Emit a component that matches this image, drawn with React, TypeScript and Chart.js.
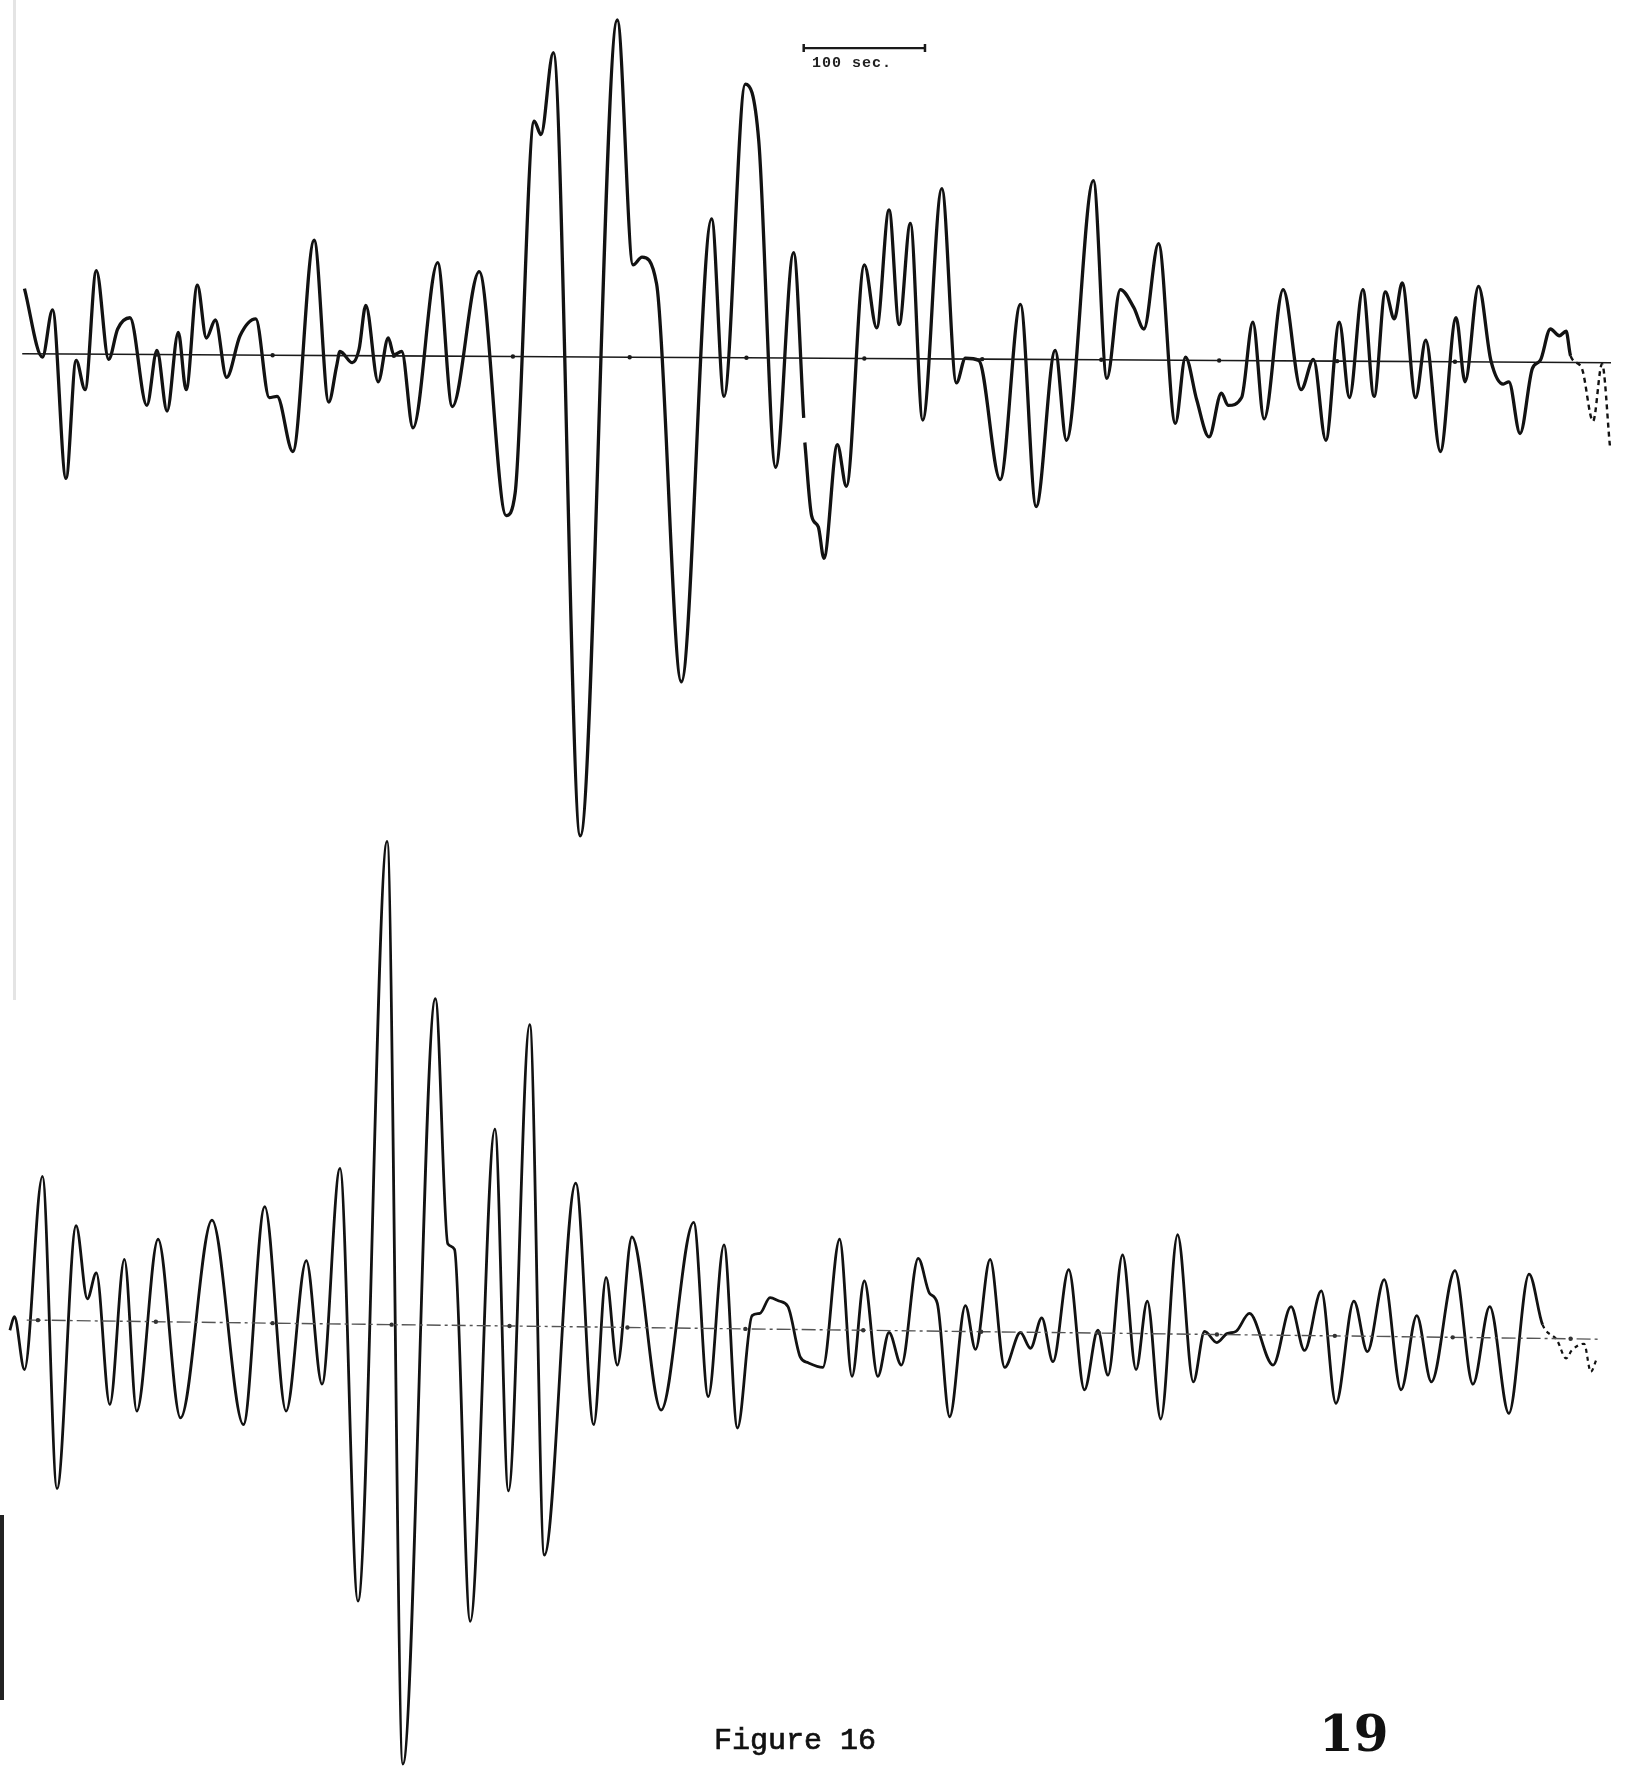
import React, { useEffect, useRef } from "react";
import { Chart, registerables } from "chart.js";

Chart.register(...registerables);

// Time axis in chart units (100 sec = 108 units), amplitude relative to each trace's zero line.

// Upper trace
const upperTime = [
  16, 32, 41, 53, 62, 70, 80, 91, 99, 110, 125, 134, 143, 153, 160, 170, 178, 186, 196, 208,
  222, 234, 241, 255, 274, 287, 294, 297, 308, 314, 320, 331, 340, 345, 352, 362, 384, 397, 421, 445,
  453, 470, 476, 487, 511, 544, 558, 566, 579, 601, 628, 639, 658, 670, 685, 701, 710, 710.5, 711, 717,
  723, 728, 740, 748, 764, 775, 786, 795, 805, 816, 833, 846, 854, 866, 885, 903, 917, 934, 944, 968,
  980, 992, 1004, 1013, 1026, 1041, 1050, 1060, 1071, 1082, 1088, 1100, 1110, 1120, 1137, 1153, 1164, 1175, 1187, 1196,
  1208, 1218, 1228, 1236, 1243, 1255, 1264, 1277, 1291, 1299, 1311, 1322, 1333, 1338, 1348, 1359, 1366, 1375, 1383, 1389,
  1393, 1403, 1413, 1421, 1428,
];
const upperAmp = [
  61, 0, 42, -108, -3, -29, 77, -2, 25, 35, -43, 6, -48, 22, -29, 64, 17, 33, -18, 19,
  34, -36, -35, -84, 104, -40, -8, 5, -5, 7, 46, -22, 17, 2, 5, -63, 84, -44, 76, -141,
  -121, 210, 198, 271, -426, 300, 82, 89, 65, -289, 123, -35, 243, 192, -98, 93, -54, null, -76, -141,
  -151, -179, -78, -115, 82, 26, 131, 29, 119, -56, 150, -23, -1, -3, -109, 47, -133, 6, -74, 157,
  -19, 60, 44, 25, 101, -59, 0, -38, -71, -32, -43, -36, 31, -55, 60, -29, -2, -74, 31, -36,
  60, -35, 58, 34, 66, -36, 15, -84, 35, -22, 63, -3, -24, -22, -68, -10, -3, 25, 19, 23,
  1, -10, -57, -6, -79,
];
const upperMarkTime = [14, 134, 237, 345, 451, 555, 659, 764, 869, 975, 1080, 1185, 1290, 1429];
const upperMarkLevel = [3, 2.3, 1.7, 1.1, 0.5, -0.1, -0.6, -1.2, -1.8, -2.4, -3.0, -3.6, -4.2, -5];

// Lower trace
const lowerTime = [
  3, 7, 16, 32, 45, 62, 72, 80, 92, 105, 116, 135, 155, 183, 211, 230, 249, 267, 281, 297,
  313, 339, 353, 382, 393, 399, 413, 435, 447, 466, 479, 507, 523, 534, 544, 557, 583, 612, 625, 639,
  651, 664, 671, 680, 688, 696, 707, 714, 727, 742, 753, 764, 776, 786, 797, 812, 822, 829, 840, 854,
  863, 876, 889, 903, 912, 922, 932, 946, 960, 972, 981, 994, 1006, 1016, 1028, 1043, 1057, 1067, 1078, 1087,
  1095, 1107, 1128, 1144, 1156, 1171, 1184, 1200, 1212, 1227, 1242, 1256, 1269, 1290, 1306, 1321, 1338, 1356, 1368, 1381,
  1389, 1394, 1405, 1411, 1416,
];
const lowerAmp = [
  -8, 4, -43, 129, -149, 85, 20, 43, -74, 55, -80, 73, -86, 90, -92, 102, -80, 54, -56, 136,
  -249, 427, -394, 287, 69, 64, -267, 171, -151, 264, -208, 123, -92, 39, -39, 75, -79, 88, -67, 68,
  -95, 5, 7, 21, 18, 13, -32, -37, -41, 73, -49, 36, -49, -10, -39, 56, 25, 16, -85, 14,
  -25, 55, -41, -10, -24, 3, -36, 46, -61, -8, -48, 59, -43, 18, -87, 77, -54, -9, -19, -11,
  -9, 7, -39, 13, -26, 27, -73, 18, -27, 37, -61, 5, -54, 45, -56, 13, -82, 42, -3, -17,
  -33, -26, -20, -45, -34,
];
const lowerMarkTime = [18, 28, 133, 237, 343, 448, 553, 658, 763, 868, 973, 1078, 1183, 1288, 1393, 1418];
const lowerMarkLevel = [1, 1, -0.4, -1.7, -3, -4.2, -5.5, -6.8, -8, -9.3, -10.5, -11.8, -13, -14.3, -15.6, -16];

// Time scale bar (100 sec)
const scaleBarTime = [710, 818];
const scaleBarLevel = [275, 275];

const pts = (xs: number[], ys: (number | null)[]) => xs.map((x, i) => ({ x, y: ys[i] }));

export default function App() {
  const ref = useRef<HTMLCanvasElement | null>(null);

  useEffect(() => {
    if (!ref.current) return;
    const lastU = upperMarkTime.length - 1;
    const lastL = lowerMarkTime.length - 1;
    const chart = new Chart(ref.current, {
      type: "line",
      data: {
        datasets: [
          {
            data: pts(upperMarkTime, upperMarkLevel),
            yAxisID: "yTop",
            borderColor: "#1a1a1a",
            borderWidth: 1.6,
            pointRadius: (c: any) => (c.dataIndex === 0 || c.dataIndex === lastU ? 0 : 2.2),
            pointBackgroundColor: "#1a1a1a",
            pointBorderWidth: 0,
          },
          {
            data: pts(upperTime, upperAmp),
            yAxisID: "yTop",
            borderColor: "#121212",
            borderWidth: 3.3,
            cubicInterpolationMode: "monotone",
            pointRadius: 0,
            spanGaps: false,
            borderDash: [],
            segment: {
              borderDash: (c: any) => (c.p0.parsed.x >= 1393 ? [5, 4] : undefined),
              borderWidth: (c: any) => (c.p0.parsed.x >= 1393 ? 2.4 : undefined),
            },
          },
          {
            data: pts(lowerMarkTime, lowerMarkLevel),
            yAxisID: "yBot",
            borderColor: "#555",
            borderWidth: 1.4,
            borderDash: [14, 4, 3, 4],
            pointRadius: (c: any) => (c.dataIndex === 0 || c.dataIndex === lastL ? 0 : 2.2),
            pointBackgroundColor: "#333",
            pointBorderWidth: 0,
          },
          {
            data: pts(lowerTime, lowerAmp),
            yAxisID: "yBot",
            borderColor: "#121212",
            borderWidth: 2.8,
            cubicInterpolationMode: "monotone",
            pointRadius: 0,
            borderDash: [],
            segment: {
              borderDash: (c: any) => (c.p0.parsed.x >= 1368 ? [4, 4] : undefined),
              borderWidth: (c: any) => (c.p0.parsed.x >= 1368 ? 2.2 : undefined),
            },
          },
          {
            data: pts(scaleBarTime, scaleBarLevel),
            yAxisID: "yTop",
            borderColor: "#1a1a1a",
            borderWidth: 2.4,
            pointStyle: "line",
            rotation: 90,
            pointRadius: 4,
            pointBorderWidth: 2.5,
            pointBorderColor: "#1a1a1a",
          },
        ],
      },
      options: {
        responsive: false,
        animation: false,
        devicePixelRatio: 1,
        events: [],
        layout: { padding: 0 },
        plugins: { legend: { display: false }, tooltip: { enabled: false }, title: { display: false } },
        scales: {
          x: { type: "linear", min: 0, max: 1441, display: false },
          yTop: { type: "linear", min: -1256, max: 312, display: false },
          yBot: { type: "linear", min: -398, max: 1170, display: false },
        },
      },
    } as any);
    return () => chart.destroy();
  }, []);

  return (
    <div style={{ position: "absolute", left: 0, top: 0, width: 1631, height: 1775, background: "#fff", overflow: "hidden" }}>
      <canvas ref={ref} width={1631} height={1775} style={{ display: "block", width: 1631, height: 1775 }} />
      <div style={{ position: "absolute", left: 13, top: 0, width: 3, height: 1000, background: "#e4e4e4" }} />
      <div style={{ position: "absolute", left: 0, top: 1515, width: 4, height: 185, background: "#222" }} />
      <div
        style={{
          position: "absolute", left: 812, top: 56, fontFamily: "'Liberation Mono', monospace",
          fontWeight: "bold", fontSize: 15, letterSpacing: 1, lineHeight: 1, color: "#222", whiteSpace: "nowrap",
        }}
      >
        100 sec.
      </div>
      <div
        style={{
          position: "absolute", left: 714, top: 1726, fontFamily: "'Liberation Mono', monospace",
          fontSize: 30, lineHeight: 1, color: "#111", whiteSpace: "nowrap",
          WebkitTextStroke: "0.7px #111",
        }}
      >
        Figure 16
      </div>
      <div
        style={{
          position: "absolute", left: 1319, top: 1709, fontFamily: "'DejaVu Serif', serif",
          fontWeight: "bold", fontSize: 50, lineHeight: 1, color: "#111", whiteSpace: "nowrap",
        }}
      >
        19
      </div>
    </div>
  );
}
